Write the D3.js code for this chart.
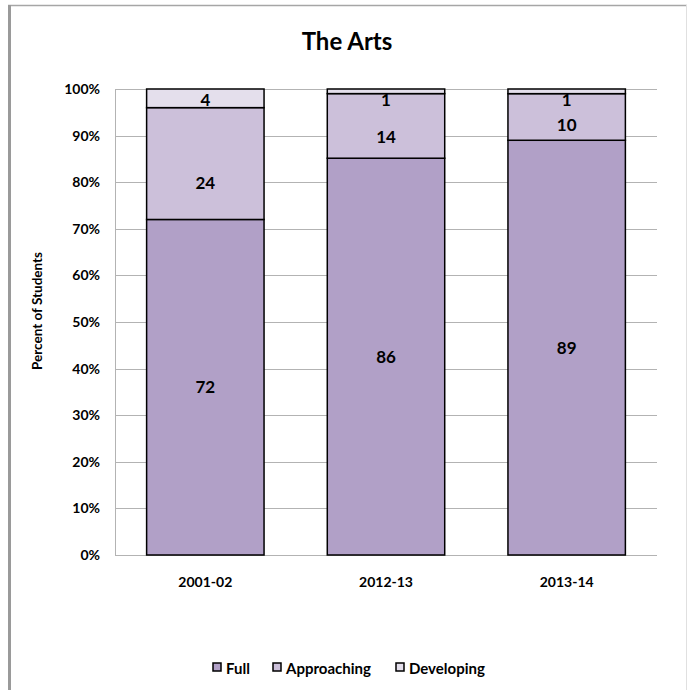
<!DOCTYPE html>
<html>
<head>
<meta charset="utf-8">
<script src="https://cdnjs.cloudflare.com/ajax/libs/d3/7.8.5/d3.min.js"></script>
<style>
  body { margin: 0; background: #fff; }
  text { font-family: Lato, "Open Sans", sans-serif; font-weight: bold; fill: #000; }
</style>
</head>
<body>
<script>
var categories = ["2001-02", "2012-13", "2013-14"];
var seriesNames = ["Full", "Approaching", "Developing"];
var full = [72, 86, 89];
var approaching = [24, 14, 10];
var developing = [4, 1, 1];
var tickLabels = ["0%", "10%", "20%", "30%", "40%", "50%", "60%", "70%", "80%", "90%", "100%"];

var colors = ["#b1a0c7", "#ccc0da", "#e4dfec"];
// where the label sits inside a segment (fraction from the bottom)
var labelPos = [0.5, 0.33, 0.5];

var width = 687, height = 690;
var plotL = 115, plotR = 657, plotT = 89, plotB = 555;

var svg = d3.select("body").append("svg").attr("width", width).attr("height", height);

// outer frame
svg.append("line").attr("x1", 8).attr("x2", width).attr("y1", 5.5).attr("y2", 5.5)
  .style("stroke", "#a6a6a6").style("stroke-width", 1.5);
svg.append("line").attr("x1", 9.5).attr("x2", 9.5).attr("y1", 5).attr("y2", height)
  .style("stroke", "#9a9a9a").style("stroke-width", 3);
svg.append("line").attr("x1", 686.5).attr("x2", 686.5).attr("y1", 5).attr("y2", height)
  .style("stroke", "#e0e0e0").style("stroke-width", 1);

svg.append("text").attr("x", 347).attr("y", 50).attr("text-anchor", "middle")
  .style("font-size", "24px").text("The Arts");

var x = d3.scaleBand().domain(categories).range([plotL, plotR])
  .paddingInner(0.35).paddingOuter(0.175);
var y = d3.scaleLinear().domain([0, 1]).range([plotB, plotT]);

// gridlines + axis lines
var yTicks = d3.range(0, 11).map(function (i) { return i / 10; });
svg.append("g").selectAll("line").data(yTicks).enter().append("line")
  .attr("x1", plotL).attr("x2", plotR)
  .attr("y1", function (d) { return Math.round(y(d)) + 0.5; })
  .attr("y2", function (d) { return Math.round(y(d)) + 0.5; })
  .style("stroke", "#b3b3b3").style("stroke-width", 1);
svg.append("line").attr("x1", plotL + 0.5).attr("x2", plotL + 0.5).attr("y1", plotT).attr("y2", plotB)
  .style("stroke", "#b3b3b3");

var yAxis = d3.axisLeft(y).tickValues(yTicks).tickSize(0).tickPadding(15)
  .tickFormat(function (d, i) { return tickLabels[i]; });
var gy = svg.append("g").attr("transform", "translate(" + plotL + ",0)").call(yAxis);
gy.select(".domain").remove();
gy.selectAll("text").style("font-size", "14px").style("font-family", "Lato");

var xAxis = d3.axisBottom(x).tickSize(0).tickPadding(22);
var gx = svg.append("g").attr("transform", "translate(0," + plotB + ")").call(xAxis);
gx.select(".domain").remove();
gx.selectAll("text").style("font-size", "14px").style("font-family", "Lato");

svg.append("text").attr("transform", "translate(42,311) rotate(-90)")
  .attr("text-anchor", "middle").style("font-size", "13.5px").text("Percent of Students");

// stacked percent data
var rows = categories.map(function (c, i) {
  var tot = full[i] + approaching[i] + developing[i];
  return { cat: c, vals: [full[i], approaching[i], developing[i]],
    Full: full[i] / tot, Approaching: approaching[i] / tot, Developing: developing[i] / tot };
});
var layers = d3.stack().keys(seriesNames)(rows);

var g = svg.append("g");
layers.forEach(function (layer, si) {
  g.selectAll("rect.s" + si).data(layer).enter().append("rect")
    .attr("class", "s" + si)
    .attr("x", function (d) { return x(d.data.cat); })
    .attr("width", x.bandwidth())
    .attr("y", function (d) { return y(d[1]); })
    .attr("height", function (d) { return y(d[0]) - y(d[1]); })
    .style("fill", colors[si]).style("stroke", "#000").style("stroke-width", 1.5);
});

layers.forEach(function (layer, si) {
  g.selectAll("text.l" + si).data(layer).enter().append("text")
    .attr("class", "l" + si)
    .attr("x", function (d) { return x(d.data.cat) + x.bandwidth() / 2; })
    .attr("y", function (d) {
      var cy = y(d[0] + (d[1] - d[0]) * labelPos[si]);
      return Math.max(cy, plotT + 11);
    })
    .attr("dy", "0.36em")
    .attr("text-anchor", "middle").style("font-size", "17px")
    .text(function (d) { return d.data.vals[si]; });
});

// legend
var legX = [213, 273, 396];
var leg = svg.append("g");
seriesNames.forEach(function (n, i) {
  leg.append("rect").attr("x", legX[i]).attr("y", 663).attr("width", 8).attr("height", 8)
    .style("fill", colors[i]).style("stroke", "#000").style("stroke-width", 1.5);
  leg.append("text").attr("x", legX[i] + 13).attr("y", 674)
    .style("font-size", "15px").text(n);
});
</script>
</body>
</html>
